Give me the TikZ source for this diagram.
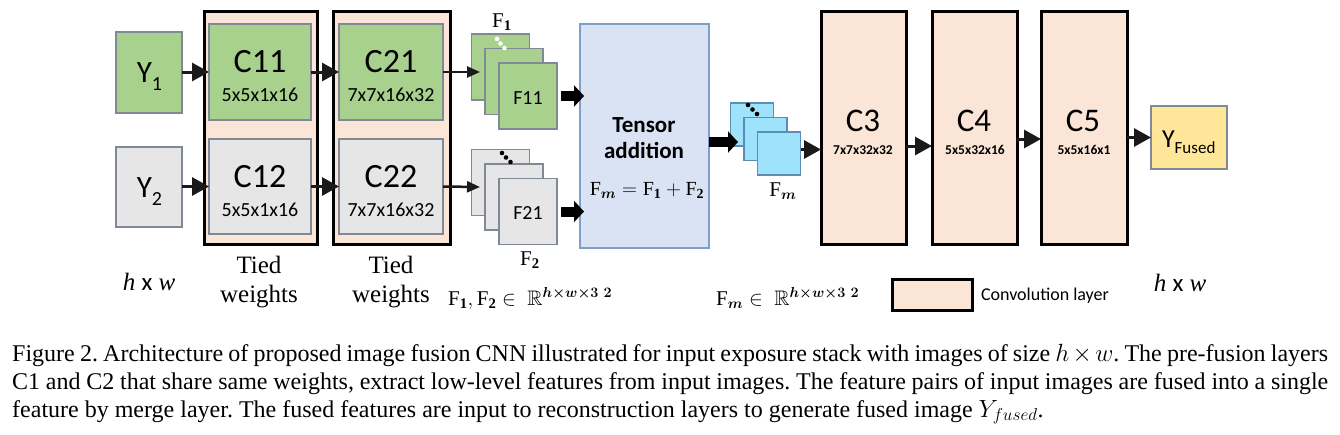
\documentclass[tikz,border=0pt]{standalone}
\usepackage{amsmath,amssymb}
\usepackage{fontspec}
\setmainfont{Liberation Serif}
\newfontfamily\calib{Carlito}
\usetikzlibrary{arrows.meta}
\definecolor{cgreen}{HTML}{A9D18E}
\definecolor{cgray}{HTML}{E7E6E6}
\definecolor{cpeach}{HTML}{FBE5D6}
\definecolor{cblue}{HTML}{DAE3F3}
\definecolor{ccyan}{HTML}{9EE3FB}
\definecolor{cyellow}{HTML}{FFE699}
\definecolor{cedge}{HTML}{7F8A96}
\definecolor{cbedge}{HTML}{7EA0C8}
\definecolor{ccedge}{HTML}{5B8DB5}
\definecolor{carrow}{HTML}{1A1A1A}
\tikzset{
  box/.style={draw=cedge, line width=1.2pt, inner sep=0pt, outer sep=0pt},
  conv/.style={draw=black, line width=3pt, fill=cpeach, inner sep=0pt, outer sep=0pt},
  lbl/.style={inner sep=0pt, outer sep=0pt, font=\calib},
  arr/.style={draw=carrow, line width=3pt, -{Triangle[length=17pt,width=18pt]}},
  thinarr/.style={draw=carrow, line width=2.5pt, -{Triangle[length=13pt,width=11pt]}},
  blk/.style={draw=black, line width=10pt, -{Triangle[length=10pt,width=21pt]}},
}
\begin{document}
\frenchspacing
\begin{tikzpicture}[x=1pt,y=-1pt]
\useasboundingbox (0,0) rectangle (1340,434);
% inputs
\node[box, fill=cgreen, minimum width=66pt, minimum height=81pt] (Y1) at (149,72.5) {};
\node[box, fill=cgray, minimum width=66pt, minimum height=80pt] (Y2) at (149,187) {};
\node[lbl, anchor=base] (Y1t) at (149.5,82) {\fontsize{31}{31}\selectfont Y\raisebox{-8pt}{\fontsize{20}{20}\selectfont 1}};
\node[lbl, anchor=base] (Y2t) at (149.5,197) {\fontsize{31}{31}\selectfont Y\raisebox{-8pt}{\fontsize{20}{20}\selectfont 2}};
% tied blocks
\node[conv, minimum width=113pt, minimum height=233pt] (T1) at (260.5,127.5) {};
\node[conv, minimum width=117pt, minimum height=233pt] (T2) at (391.5,127.5) {};
\node[box, fill=cgreen, minimum width=102pt, minimum height=96pt] (C11) at (260,72) {};
\node[box, fill=cgray, minimum width=102pt, minimum height=95pt] (C12) at (260,186.5) {};
\node[box, fill=cgreen, minimum width=104pt, minimum height=96pt] (C21) at (391,72) {};
\node[box, fill=cgray, minimum width=104pt, minimum height=95pt] (C22) at (391,186.5) {};
\node[lbl, anchor=base] (C11a) at (260,72) {\fontsize{34}{34}\selectfont C11};
\node[lbl, anchor=base] (C11b) at (260,101) {\fontsize{20}{20}\selectfont 5x5x1x16};
\node[lbl, anchor=base] (C12a) at (260,187) {\fontsize{34}{34}\selectfont C12};
\node[lbl, anchor=base] (C12b) at (260,216) {\fontsize{20}{20}\selectfont 5x5x1x16};
\node[lbl, anchor=base] (C21a) at (391,72) {\fontsize{34}{34}\selectfont C21};
\node[lbl, anchor=base] (C21b) at (391,101) {\fontsize{20}{20}\selectfont 7x7x16x32};
\node[lbl, anchor=base] (C22a) at (391,187) {\fontsize{34}{34}\selectfont C22};
\node[lbl, anchor=base] (C22b) at (391,216) {\fontsize{20}{20}\selectfont 7x7x16x32};
% feature stacks F1, F2
\node[box, fill=cgreen, minimum width=58pt, minimum height=66pt] (F1a) at (500.5,67) {};
\node[box, fill=cgreen, minimum width=58pt, minimum height=66pt] (F1b) at (514,81.5) {};
\node[box, fill=cgreen, minimum width=58pt, minimum height=66pt] (F1c) at (528,96) {};
\node[box, fill=cgray, minimum width=58pt, minimum height=66pt] (F2a) at (500.5,182.5) {};
\node[box, fill=cgray, minimum width=58pt, minimum height=66pt] (F2b) at (514,197) {};
\node[box, fill=cgray, minimum width=58pt, minimum height=66pt] (F2c) at (528,211.5) {};
\fill[white] (497,39) circle (2.3pt) (500.5,43.5) circle (2.3pt) (504.5,48) circle (2.3pt);
\fill[black] (502,153) circle (2.3pt) (506,157.5) circle (2.3pt) (510.5,162) circle (2.3pt);
\node[lbl, anchor=base] (F11t) at (528,104) {\fontsize{20}{20}\selectfont F11};
\node[lbl, anchor=base] (F21t) at (528,219) {\fontsize{20}{20}\selectfont F21};
\node[inner sep=0pt, anchor=base] (F1l) at (502,27) {\fontsize{21}{21}\selectfont $\mathrm{F}_{\mathbf{1}}$};
\node[inner sep=0pt, anchor=base] (F2l) at (530,265) {\fontsize{21}{21}\selectfont $\mathrm{F}_{\mathbf{2}}$};
% tensor addition
\node[draw=cbedge, line width=1.5pt, fill=cblue, minimum width=129pt, minimum height=224pt, inner sep=0pt, outer sep=0pt] (TA) at (644.5,136) {};
\node[lbl, anchor=base] (TAa) at (644,132) {\fontsize{23}{23}\selectfont\bfseries Tensor};
\node[lbl, anchor=base] (TAb) at (644,158) {\fontsize{23}{23}\selectfont\bfseries addition};
\node[inner sep=0pt, anchor=base] (TAc) at (647,195) {\fontsize{20}{20}\selectfont $\mathrm{F}_{\boldsymbol{m}} = \mathrm{F}_{\mathbf{1}} + \mathrm{F}_{\mathbf{2}}$};
% Fm stack
\node[draw=ccedge, line width=1.2pt, fill=ccyan, minimum width=43pt, minimum height=43pt, inner sep=0pt, outer sep=0pt] (Fm1) at (752,124.5) {};
\node[draw=ccedge, line width=1.2pt, fill=ccyan, minimum width=43pt, minimum height=43pt, inner sep=0pt, outer sep=0pt] (Fm2) at (765.5,139) {};
\node[draw=ccedge, line width=1.2pt, fill=ccyan, minimum width=43pt, minimum height=43pt, inner sep=0pt, outer sep=0pt] (Fm3) at (779,153.5) {};
\fill[black] (748,105) circle (2.3pt) (752.5,109.5) circle (2.3pt) (757,114) circle (2.3pt);
\node[inner sep=0pt, anchor=base] (Fml) at (783,196) {\fontsize{21}{21}\selectfont $\mathrm{F}_{\boldsymbol{m}}$};
% reconstruction layers
\node[conv, minimum width=85pt, minimum height=233pt] (C3) at (863.5,127.5) {};
\node[conv, minimum width=85pt, minimum height=233pt] (C4) at (974.5,127.5) {};
\node[conv, minimum width=86pt, minimum height=233pt] (C5) at (1084,127.5) {};
\node[lbl, anchor=base] (C3a) at (863,131) {\fontsize{33}{33}\selectfont C3};
\node[lbl, anchor=base] (C3b) at (863,154) {\fontsize{13.5}{14}\selectfont\bfseries 7x7x32x32};
\node[lbl, anchor=base] (C4a) at (974,131) {\fontsize{33}{33}\selectfont C4};
\node[lbl, anchor=base] (C4b) at (975,154) {\fontsize{13.5}{14}\selectfont\bfseries 5x5x32x16};
\node[lbl, anchor=base] (C5a) at (1083,131) {\fontsize{33}{33}\selectfont C5};
\node[lbl, anchor=base] (C5b) at (1084,154) {\fontsize{13.5}{14}\selectfont\bfseries 5x5x16x1};
\node[box, fill=cyellow, minimum width=76pt, minimum height=63pt] (Yf) at (1189,137.5) {};
\node[lbl, anchor=base west] (Yft) at (1162,147) {\fontsize{26}{26}\selectfont Y\raisebox{-6pt}{\fontsize{17}{17}\selectfont Fused}};
% connectors
\coordinate (f1in) at (480,72);
\coordinate (f2in) at (480,187);
\coordinate (fmin) at (738,142);
\draw[arr] (Y1.east |- C11.west) -- (C11.west);
\draw[arr] (Y2.east |- C12.west) -- (C12.west);
\draw[arr] (C11.east) -- (C21.west);
\draw[arr] (C12.east) -- (C22.west);
\draw[thinarr] (C21.east) -- (f1in);
\draw[thinarr] (C22.east) -- (f2in);
\draw[blk] ([xshift=4pt]F1c.east) -- ([xshift=4pt]F1c.east -| TA.west);
\draw[blk] ([xshift=4pt]F2c.east) -- ([xshift=4pt]F2c.east -| TA.west);
\draw[blk] (TA.east |- fmin) -- (fmin);
\draw[arr] ([yshift=4pt]Fm3.east) -- ([yshift=4pt]Fm3.east -| C3.west);
\draw[arr] ([yshift=-18.5pt]C3.east) -- ([yshift=-18.5pt]C4.west);
\draw[arr] ([yshift=-11.5pt]C4.east) -- ([yshift=-11.5pt]C5.west);
\draw[arr] (C5.east |- Yf.west) -- (Yf.west);
% bottom labels
\node[inner sep=0pt, anchor=base] (hw1) at (149,290) {\fontsize{25}{25}\selectfont\textit{h} {\calib x} \textit{w}};
\node[inner sep=0pt, anchor=base] (tw1a) at (259,273) {\fontsize{25}{25}\selectfont Tied};
\node[inner sep=0pt, anchor=base] (tw1b) at (259,302) {\fontsize{25}{25}\selectfont weights};
\node[inner sep=0pt, anchor=base] (tw2a) at (391,273) {\fontsize{25}{25}\selectfont Tied};
\node[inner sep=0pt, anchor=base] (tw2b) at (391,302) {\fontsize{25}{25}\selectfont weights};
\node[inner sep=0pt, anchor=base west] (eq1) at (448,305) {\fontsize{21}{21}\selectfont $\mathrm{F}_{\mathbf{1}},\mathrm{F}_{\mathbf{2}} \in \;\mathbb{R}^{\boldsymbol{h\times w\times 3\ 2}}$};
\node[inner sep=0pt, anchor=base west] (eq2) at (716,305) {\fontsize{21}{21}\selectfont $\mathrm{F}_{\boldsymbol{m}} \in \;\mathbb{R}^{\boldsymbol{h\times w\times 3\ 2}}$};
\node[conv, minimum width=80pt, minimum height=31pt] (leg) at (932,294.5) {};
\node[lbl, anchor=base west] (legt) at (981,300) {\fontsize{18}{18}\selectfont Convolution layer};
\node[inner sep=0pt, anchor=base] (hw2) at (1180,291) {\fontsize{25}{25}\selectfont\textit{h} {\calib x} \textit{w}};
% caption
\node[inner sep=0pt, anchor=base west] (cap1) at (12,361) {\fontsize{24}{28}\selectfont\makebox[1316pt][s]{Figure 2. Architecture of proposed image fusion CNN illustrated for input exposure stack with images of size $h \times w$. The pre-fusion layers}};
\node[inner sep=0pt, anchor=base west] (cap2) at (12,389) {\fontsize{24}{28}\selectfont\makebox[1316pt][s]{C1 and C2 that share same weights, extract low-level features from input images. The feature pairs of input images are fused into a single}};
\node[inner sep=0pt, anchor=base west] (cap3) at (12,417) {\fontsize{24}{28}\selectfont feature by merge layer. The fused features are input to reconstruction layers to generate fused image $Y_{fused}$.};
\end{tikzpicture}
\end{document}
